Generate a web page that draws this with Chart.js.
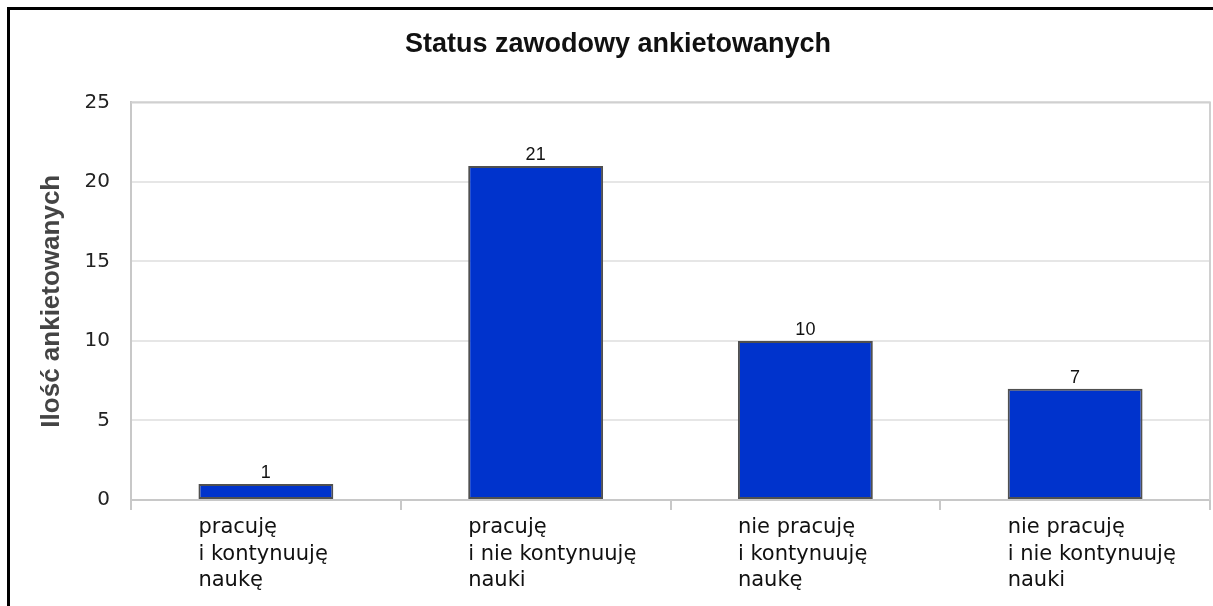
<!DOCTYPE html>
<html lang="pl">
<head>
<meta charset="utf-8">
<title>Status zawodowy ankietowanych</title>
<script src="https://cdn.jsdelivr.net/npm/chart.js@4.4.1/dist/chart.umd.min.js"></script>
<style>
  html, body { margin: 0; padding: 0; background: #fff; }
  #wrap  { position: relative; width: 1213px; height: 606px; overflow: hidden; }
  #frame { position: absolute; left: 7px; top: 7px; right: -10px; bottom: -10px;
           border-left: 3px solid #000; border-top: 3px solid #000; pointer-events: none; }
</style>
</head>
<body>
<div id="wrap">
  <canvas id="chart" width="1213" height="606"></canvas>
  <div id="frame"></div>
</div>
<script>
const categories = [
  ['pracuję', 'i kontynuuję', 'naukę'],
  ['pracuję', 'i nie kontynuuję', 'nauki'],
  ['nie pracuję', 'i kontynuuję', 'naukę'],
  ['nie pracuję', 'i nie kontynuuję', 'nauki']
];
const values      = [1, 21, 10, 7];
const yTickValues = [0, 5, 10, 15, 20, 25];

const chartTitle = 'Status zawodowy ankietowanych';
const yTitle     = 'Ilość ankietowanych';

// plot frame (top + right), value labels, left-aligned category labels
const extras = {
  id: 'extras',
  afterDatasetsDraw(chart) {
    const { ctx, chartArea: a } = chart;
    const bars = chart.getDatasetMeta(0).data;
    ctx.save();

    ctx.strokeStyle = '#d0d0d0';
    ctx.lineWidth = 2;
    ctx.beginPath();
    ctx.moveTo(a.left, a.top);
    ctx.lineTo(a.right, a.top);
    ctx.lineTo(a.right, a.bottom);
    ctx.stroke();

    ctx.font = '18px "Liberation Sans", Arial, sans-serif';
    ctx.fillStyle = '#111';
    ctx.textAlign = 'center';
    ctx.textBaseline = 'bottom';
    bars.forEach((bar, i) => ctx.fillText(String(values[i]), bar.x, bar.y - 2));

    ctx.font = '21px "DejaVu Sans", sans-serif';
    ctx.fillStyle = '#111';
    ctx.textAlign = 'left';
    ctx.textBaseline = 'middle';
    bars.forEach((bar, i) => {
      const x0 = bar.x - bar.width / 2;
      categories[i].forEach((line, j) => ctx.fillText(line, x0, a.bottom + 28 + j * 26.5));
    });

    ctx.restore();
  }
};

new Chart(document.getElementById('chart').getContext('2d'), {
  type: 'bar',
  data: {
    labels: categories,
    datasets: [{
      data: values,
      backgroundColor: '#0033cc',
      borderColor: '#505050',
      borderWidth: 2,
      borderSkipped: false,
      barPercentage: 0.5,
      categoryPercentage: 1
    }]
  },
  options: {
    responsive: false,
    animation: false,
    devicePixelRatio: 1,
    layout: { padding: { left: 26, right: 3, top: 0, bottom: 0 } },
    plugins: {
      legend: { display: false },
      tooltip: { enabled: false },
      title: {
        display: true,
        text: chartTitle,
        color: '#111',
        font: { family: '"Liberation Sans", Arial, sans-serif', size: 27, weight: 'bold' },
        padding: { top: 28, bottom: 42 }
      }
    },
    scales: {
      x: {
        offset: true,
        ticks: { display: false },
        grid: { offset: true, drawOnChartArea: false, drawTicks: true, tickLength: 10, color: '#c8c8c8', lineWidth: 2 },
        border: { color: '#c8c8c8', width: 2 },
        afterFit: s => { s.height = 106; }
      },
      y: {
        min: yTickValues[0],
        max: yTickValues[yTickValues.length - 1],
        afterBuildTicks: s => { s.ticks = yTickValues.map(v => ({ value: v })); },
        ticks: {
          color: '#222',
          padding: 21,
          font: { family: '"DejaVu Sans", sans-serif', size: 20 }
        },
        grid: { color: '#e6e6e6', lineWidth: 2, drawTicks: false },
        border: { color: '#c8c8c8', width: 2 },
        title: {
          display: true,
          text: yTitle,
          color: '#444',
          font: { family: '"Liberation Sans", Arial, sans-serif', size: 26, weight: 'bold' },
          padding: { top: 10, bottom: 0 }
        },
        afterFit: s => { s.width = 105; }
      }
    }
  },
  plugins: [extras]
});
</script>
</body>
</html>
